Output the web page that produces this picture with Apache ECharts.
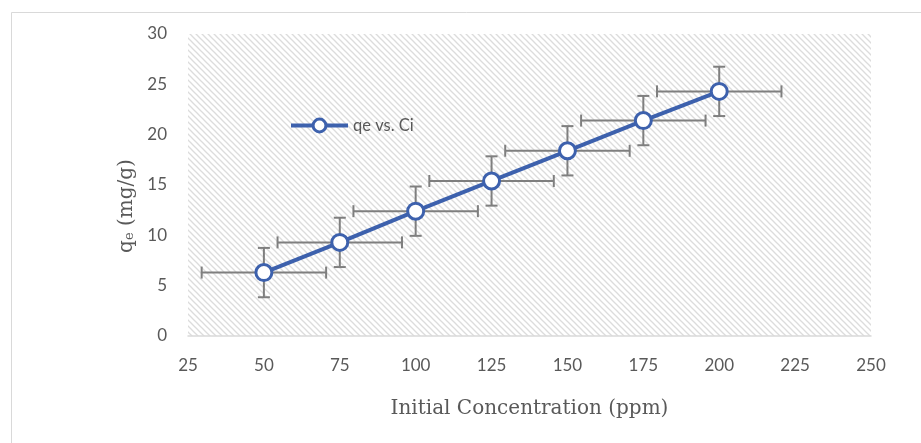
<!DOCTYPE html>
<html><head><meta charset="utf-8">
<script src="https://cdn.jsdelivr.net/npm/echarts@6/dist/echarts.min.js"></script>
<style>html,body{margin:0;padding:0;background:#fff}#c{width:921px;height:443px}</style>
</head><body><div id="c"></div>
<script>
const concentrations = [50, 75, 100, 125, 150, 175, 200];
const qeValues = [6.3, 9.3, 12.4, 15.4, 18.4, 21.4, 24.3];
const qeError = [2.45, 2.45, 2.45, 2.45, 2.45, 2.45, 2.45];
const concError = [20.5, 20.5, 20.5, 20.5, 20.5, 20.5, 20.5];
const seriesName = 'qe vs. Ci';

const pc = document.createElement('canvas');
pc.width = 6; pc.height = 6;
const g = pc.getContext('2d');
g.fillStyle = '#ffffff'; g.fillRect(0,0,6,6);
g.strokeStyle = '#dcdcdc'; g.lineWidth = 1.3;
for (const x0 of [-6, 0, 6]) { g.beginPath(); g.moveTo(x0-1, -1); g.lineTo(x0+7, 7); g.stroke(); }

const errData = concentrations.map((c, i) => [c, qeValues[i], concError[i], qeError[i]]);
const lineData = concentrations.map((c, i) => [c, qeValues[i]]);

const chart = echarts.init(document.getElementById('c'), null, {renderer: 'canvas'});
chart.setOption({
  animation: false,
  backgroundColor: '#fff',
  graphic: [{type: 'rect', shape: {x: 11.5, y: 12.5, width: 1000, height: 1000}, style: {fill: 'none', stroke: '#d9d9d9', lineWidth: 1}, silent: true, z: -10}],
  grid: {left: 188, right: 50, top: 34, bottom: 107, show: true, borderWidth: 0, backgroundColor: {image: pc, repeat: 'repeat'}},
  legend: {
    left: 284, top: 112, itemWidth: 57, itemHeight: 16, itemGap: 2,
    data: [seriesName],
    lineStyle: {width: 4, color: '#3d61ad'},
    itemStyle: {color: '#ffffff', borderColor: '#3d61ad', borderWidth: 3},
    textStyle: {color: '#595959', fontSize: 16.5, fontFamily: 'Lato'}
  },
  xAxis: {
    type: 'value', min: 25, max: 250, interval: 25,
    axisLine: {show: true, lineStyle: {color: '#d9d9d9', width: 1.5}},
    axisTick: {show: false}, splitLine: {show: false},
    axisLabel: {color: '#595959', fontSize: 17, fontFamily: 'Lato', margin: 21},
    name: 'Initial Concentration (ppm)', nameLocation: 'middle', nameGap: 63,
    nameTextStyle: {color: '#595959', fontSize: 20, fontFamily: 'DejaVu Serif'}
  },
  yAxis: {
    type: 'value', min: 0, max: 30, interval: 5,
    axisLine: {show: false}, axisTick: {show: false}, splitLine: {show: false},
    axisLabel: {color: '#595959', fontSize: 17, fontFamily: 'Lato', margin: 21},
    name: '{q|q}{s|e}{q| (mg/g)}', nameLocation: 'middle', nameGap: 40, nameRotate: 90,
    nameTextStyle: {color: '#595959', fontSize: 20, fontFamily: 'DejaVu Serif', padding: [0, 0, 0, -42],
      rich: {q: {fontSize: 20, fontFamily: 'DejaVu Serif', color: '#595959'}, s: {fontSize: 13, fontFamily: 'DejaVu Serif', color: '#595959', verticalAlign: 'bottom', padding: [7,0,0,0]}}}
  },
  series: [
    {
      type: 'custom', name: 'err', data: errData, z: 2, silent: true,
      renderItem: function (params, api) {
        const x = api.value(0), y = api.value(1), ex = api.value(2), ey = api.value(3);
        const l = api.coord([x - ex, y]), r = api.coord([x + ex, y]);
        const t = api.coord([x, y + ey]), b = api.coord([x, y - ey]);
        const st = {stroke: '#7f7f7f', lineWidth: 2};
        const cap = 6;
        return {type: 'group', children: [
          {type: 'line', shape: {x1: l[0], y1: l[1], x2: r[0], y2: r[1]}, style: st},
          {type: 'line', shape: {x1: l[0], y1: l[1]-cap, x2: l[0], y2: l[1]+cap}, style: st},
          {type: 'line', shape: {x1: r[0], y1: r[1]-cap, x2: r[0], y2: r[1]+cap}, style: st},
          {type: 'line', shape: {x1: t[0], y1: t[1], x2: b[0], y2: b[1]}, style: st},
          {type: 'line', shape: {x1: t[0]-cap, y1: t[1], x2: t[0]+cap, y2: t[1]}, style: st},
          {type: 'line', shape: {x1: b[0]-cap, y1: b[1], x2: b[0]+cap, y2: b[1]}, style: st}
        ]};
      }
    },
    {
      type: 'line', name: seriesName, data: lineData, z: 5,
      symbol: 'circle', symbolSize: 16, showSymbol: true,
      lineStyle: {color: '#3d61ad', width: 4},
      itemStyle: {color: '#ffffff', borderColor: '#3d61ad', borderWidth: 3}
    }
  ]
});
</script></body></html>
